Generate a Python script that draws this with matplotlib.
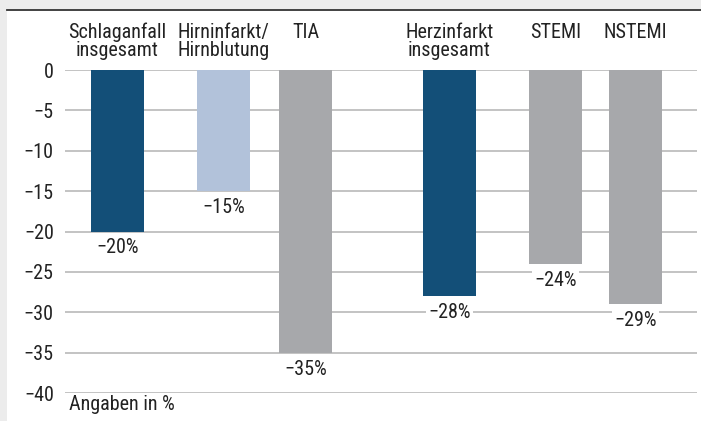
import matplotlib.pyplot as plt
from matplotlib.patches import Rectangle
from matplotlib.lines import Line2D
import matplotlib.transforms as mtransforms

# categories and values (change in %)
categories = ['Schlaganfall\ninsgesamt', 'Hirninfarkt/\nHirnblutung', 'TIA',
              'Herzinfarkt\ninsgesamt', 'STEMI', 'NSTEMI']
values = [-20, -15, -35, -28, -24, -29]
value_labels = ['−20%', '−15%', '−35%', '−28%', '−24%', '−29%']
colors = ['#134f78', '#b2c2da', '#a7a8ab', '#134f78', '#a7a8ab', '#a7a8ab']
yticks = [0, -5, -10, -15, -20, -25, -30, -35, -40]

# layout (pixel positions of bar centres)
xpos = [117.5, 223.5, 305.5, 449.5, 555.5, 635.5]
W, H = 701, 421

plt.rcParams['font.family'] = ['Liberation Sans Narrow', 'Roboto Condensed', 'Liberation Sans', 'DejaVu Sans']
txt = '#222222'
fs = 14.5

fig = plt.figure(figsize=(W / 100, H / 100), dpi=100)
fig.patch.set_facecolor('#ececec')
fig.patches.append(Rectangle((7 / W, 0), 1 - 7 / W, 1 - 10 / H, transform=fig.transFigure,
                             facecolor='white', edgecolor='none', zorder=-5))
fig.lines.append(Line2D([7 / W, 1], [1 - 9.5 / H, 1 - 9.5 / H], transform=fig.transFigure,
                        color='#333333', lw=1.3))

ax = fig.add_axes([65 / W, (H - 393) / H, (697 - 65) / W, (393 - 70) / H])
ax.set_zorder(2)
ax.set_facecolor('none')
ax.set_xlim(65, 697)
ax.set_ylim(-40, 0)

for y in yticks:
    ax.axhline(y, color='#c3c3c3', lw=1.4, zorder=1)

ax.bar(xpos, values, width=53, color=colors, zorder=2)

for x, v, lab in zip(xpos, values, value_labels):
    ax.annotate(lab, (x, v), xytext=(0, -5), textcoords='offset points',
                ha='center', va='top', fontsize=fs, color=txt, zorder=3,
                bbox=dict(boxstyle='square,pad=0.1', fc='white', ec='none'))

ax.set_yticks(yticks)
ax.set_yticklabels([f'{t}'.replace('-', '−') for t in yticks])
ax.tick_params(axis='y', length=0, pad=8, labelsize=fs, labelcolor=txt)
ax.set_xticks([])
for s in ax.spines.values():
    s.set_visible(False)

trans = mtransforms.blended_transform_factory(ax.transData, fig.transFigure)
for x, c in zip(xpos, categories):
    fig.text(x, 1 - 23 / H, c, transform=trans, ha='center', va='top',
             fontsize=fs, color=txt, linespacing=0.92)

fig.text(69 / W, 1 - 405 / H, 'Angaben in %', ha='left', va='center',
         fontsize=fs, color=txt)

fig.savefig('out.png', dpi=100, facecolor=fig.get_facecolor())
